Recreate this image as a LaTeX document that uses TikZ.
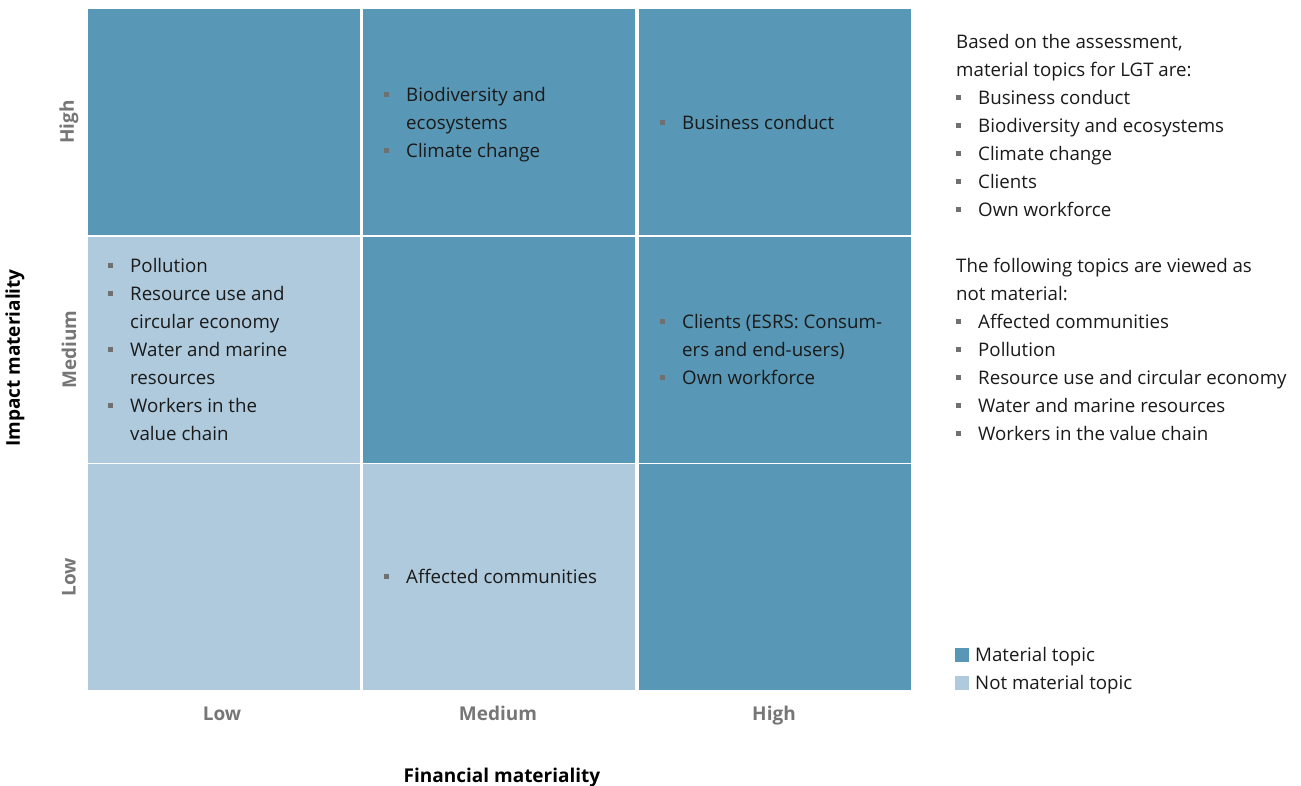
\documentclass[tikz,border=0pt]{standalone}
\usepackage{fontspec}
\setmainfont{Open Sans}
\usepackage{xcolor}
\definecolor{matdark}{HTML}{5897B5}
\definecolor{matlight}{HTML}{AECADC}
\definecolor{inktext}{HTML}{1A1A1A}
\definecolor{bulletgray}{HTML}{707070}
\definecolor{axisgray}{HTML}{767676}
% square list marker followed by the item text
\newcommand{\bul}{\makebox[22pt][l]{\textcolor{bulletgray}{\rule[4.4pt]{4.3pt}{4.3pt}}}}
\newcommand{\cont}{\hspace*{22pt}}
\begin{document}
\begin{tikzpicture}[x=1pt,y=-1pt,
  cell/.style={rectangle,inner sep=0pt,minimum width=272pt,minimum height=226pt},
  % lists are placed by the baseline of their last line
  list/.style={anchor=base west,align=left,inner sep=0pt,text=inktext,
    font=\fontsize{18.7}{28}\selectfont},
  levellabel/.style={text=axisgray,inner sep=0pt,font=\fontsize{19}{22}\selectfont\bfseries},
  axislabel/.style={text=black,inner sep=0pt,font=\fontsize{19}{22}\selectfont\bfseries},
  key/.style={rectangle,inner sep=0pt,minimum size=14pt}]
\useasboundingbox (0,0) rectangle (1301,785);

% 3x3 matrix of cells (columns: financial, rows: impact)
\node[cell,fill=matdark]  (c11) at (223.5,122)   {};
\node[cell,fill=matdark]  (c21) at (498.5,122)   {};
\node[cell,fill=matdark]  (c31) at (774.5,122)   {};
\node[cell,fill=matlight] (c12) at (223.5,349.5) {};
\node[cell,fill=matdark]  (c22) at (498.5,349.5) {};
\node[cell,fill=matdark]  (c32) at (774.5,349.5) {};
\node[cell,fill=matlight] (c13) at (223.5,577)   {};
\node[cell,fill=matlight] (c23) at (498.5,577)   {};
\node[cell,fill=matdark]  (c33) at (774.5,577)   {};

% topics in the cells
\node[list] (t21) at (384,157) {\bul Biodiversity and\\ \cont ecosystems\\ \bul Climate change};
\node[list] (t31) at (660,129) {\bul Business conduct};
\node[list] (t12) at (108,440) {\bul Pollution\\ \bul Resource use and\\ \cont circular economy\\ \bul Water and marine\\ \cont resources\\ \bul Workers in the\\ \cont value chain};
\node[list] (t32) at (660,384) {\bul Clients (ESRS: Consum-\\ \cont ers and end-users)\\ \bul Own workforce};
\node[list] (t23) at (384,583) {\bul Affected communities};

% level labels
\node[levellabel,rotate=90] (ih) at (69,122)   {High};
\node[levellabel,rotate=90] (im) at (69,349.5) {Medium};
\node[levellabel,rotate=90] (il) at (69,577)   {Low};
\node[levellabel,anchor=base] (fl) at (222,720) {Low};
\node[levellabel,anchor=base] (fm) at (498,720) {Medium};
\node[levellabel,anchor=base] (fh) at (774,720) {High};

% axis titles
\node[axislabel,rotate=90] (iaxis) at (15,358) {Impact materiality};
\node[axislabel,anchor=base] (faxis) at (502,782) {Financial materiality};

% summary text
\node[list] (sum1) at (956,216) {Based on the assessment,\\ material topics for LGT are:\\ \bul Business conduct\\ \bul Biodiversity and ecosystems\\ \bul Climate change\\ \bul Clients\\ \bul Own workforce};
\node[list] (sum2) at (956,440) {The following topics are viewed as\\ not material:\\ \bul Affected communities\\ \bul Pollution\\ \bul Resource use and circular economy\\ \bul Water and marine resources\\ \bul Workers in the value chain};

% legend
\node[key,fill=matdark]  (k1) at (962,655) {};
\node[key,fill=matlight] (k2) at (962,683) {};
\node[list] (k1t) at (975,661.5) {Material topic};
\node[list] (k2t) at (975,689.5) {Not material topic};
\end{tikzpicture}
\end{document}
